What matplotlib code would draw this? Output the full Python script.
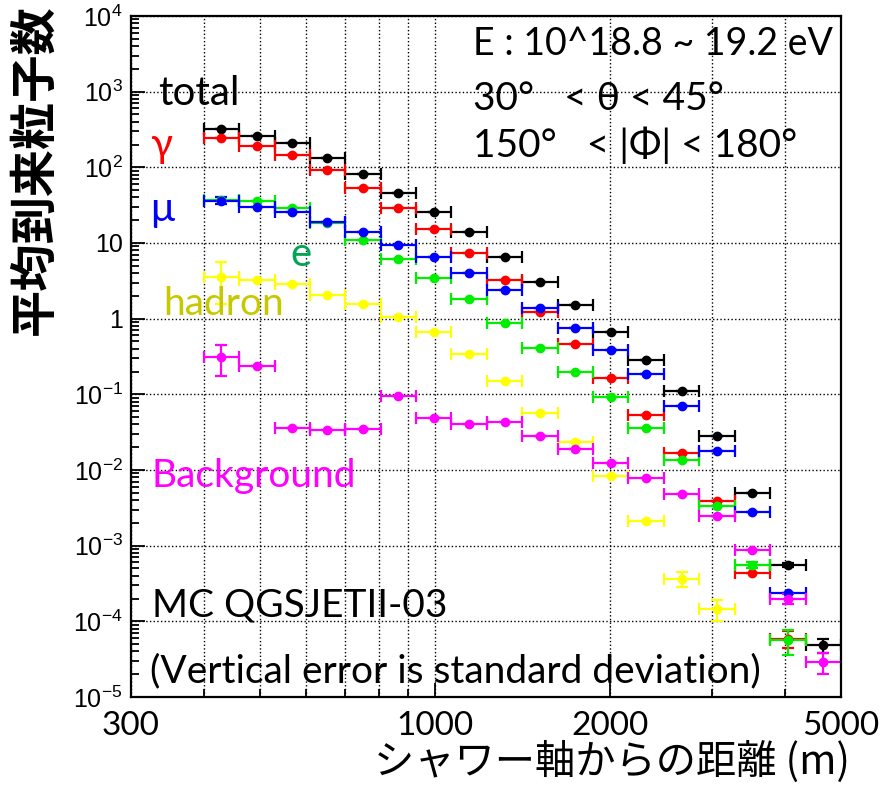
import matplotlib
matplotlib.use("Agg")
import matplotlib.pyplot as plt
import numpy as np

# 距離ビン (m)
bin_edges = [400, 460, 530, 609, 701, 807, 928, 1068, 1229, 1414, 1627,
             1872, 2154, 2479, 2852, 3282, 3777, 4346, 5000]

total = [317, 260, 207, 133, 81, 46.4, 26, 13.9, 6.63, 3.08, 1.51, 0.666,
         0.282, 0.111, 0.0283, 0.00491, 5.6e-4, 4.8e-5]
total_err = [0]*16 + [0.3e-4, 1.0e-5]

gamma = [241, 189, 144, 91, 52.8, 29.4, 15.1, 7.27, 3.27, 1.24, 0.462, 0.163,
         0.053, 0.0166, 0.00392, 4.3e-4, 5.9e-5]
gamma_err = [0]*16 + [1.5e-5]

mu = [36.4, 29.7, 26, 18.8, 13.9, 9.55, 6.44, 4.04, 2.36, 1.40, 0.761, 0.385,
      0.188, 0.0697, 0.0179, 0.00281, 2.4e-4]
mu_err = [4] + [0]*16

elec = [37, 36, 28.9, 18.5, 11.0, 6.11, 3.43, 1.80, 0.875, 0.406, 0.198,
        0.0916, 0.0357, 0.0136, 0.00334, 5.5e-4, 5.6e-5]
elec_err = [0]*15 + [0.5e-4, 2.0e-5]

hadron = [3.54, 3.23, 2.83, 2.05, 1.56, 1.05, 0.666, 0.338, 0.150, 0.0575,
          0.0233, 0.0083, 0.00214, 3.64e-4, 1.47e-4]
hadron_err = [2.0] + [0]*12 + [0.8e-4, 0.45e-4]

background = [0.311, 0.235, 0.0354, 0.0336, 0.0343, 0.0953, 0.0489, 0.0403,
              0.0425, 0.0283, 0.0187, 0.0124, 0.00788, 0.00485, 0.00247,
              8.7e-4, 1.98e-4, 2.9e-5]
background_err = [0.135] + [0]*15 + [0.3e-4, 0.9e-5]

series = [
    (total, total_err, "black"),
    (gamma, gamma_err, "#ff0000"),
    (elec, elec_err, "#00ee00"),
    (mu, mu_err, "#0000ff"),
    (hadron, hadron_err, "#ffff00"),
    (background, background_err, "#ff00ff"),
]

W, H = 895, 785
fig = plt.figure(figsize=(W/100, H/100), dpi=100)
ax = fig.add_axes([131/W, 1-697/H, 710/W, 681/H])

edges = np.array(bin_edges, dtype=float)
lo_all = edges[:-1]
hi_all = edges[1:]
cen_all = np.sqrt(lo_all*hi_all)

for vals, errs, col in series:
    n = len(vals)
    x = cen_all[:n]
    xerr = [x - lo_all[:n], hi_all[:n] - x]
    ax.errorbar(x, vals, xerr=xerr, yerr=errs, fmt="o", color=col, ms=6,
                elinewidth=1.6, capsize=4, capthick=1.6)

ax.set_xscale("log")
ax.set_yscale("log")
ax.set_xlim(300, 5000)
ax.set_ylim(1e-5, 1e4)

ax.set_xticks([300, 1000, 2000, 5000])
ax.set_xticklabels(["300", "1000", "2000", "5000"])
ax.set_xticks([400, 500, 600, 700, 800, 900, 3000, 4000], minor=True)
ax.xaxis.set_minor_formatter(matplotlib.ticker.NullFormatter())
for lab in ax.get_xticklabels():
    lab.set_fontfamily(["Lato", "DejaVu Sans"])
    lab.set_fontsize(24)

yt = [10.0**k for k in range(-5, 5)]
ylabs = []
for k in range(-5, 5):
    if k == 0:
        ylabs.append("1")
    elif k == 1:
        ylabs.append("10")
    else:
        ylabs.append(r"$\mathregular{10^{%d}}$" % k)
ax.set_yticks(yt)
ax.set_yticklabels(ylabs)
ax.yaxis.set_minor_locator(matplotlib.ticker.LogLocator(base=10, subs=np.arange(2, 10), numticks=20))
ax.yaxis.set_minor_formatter(matplotlib.ticker.NullFormatter())
for lab in ax.get_yticklabels():
    lab.set_fontfamily("Liberation Sans")
    lab.set_fontsize(18)

ax.tick_params(which="both", direction="in", top=False, right=False, width=1.3, color="black")
ax.tick_params(which="major", length=10)
ax.tick_params(which="minor", length=6)
ax.tick_params(axis="x", which="major", pad=10)
ax.tick_params(axis="y", which="major", pad=6)

ax.grid(True, axis="x", which="both", linestyle=":", color="black", linewidth=1)
ax.grid(True, axis="y", which="major", linestyle=":", color="black", linewidth=1)
ax.set_axisbelow(True)
for sp in ax.spines.values():
    sp.set_linewidth(1.6)

def put(px, py, s, color="black", size=28, fam=("Lato", "DejaVu Sans")):
    fig.text(px/W, 1-py/H, s, color=color, fontsize=size, family=list(fam),
             va="baseline", ha="left")

put(158, 105, "total", size=29)
put(150, 157, "γ", color="#ff0000", size=29)
put(150, 221, "μ", color="#0000ff", size=29)
put(290, 266, "e", color="#00a651", size=29)
put(163, 315, "hadron", color="#c8c800")
put(152, 487, "Background", color="#ff00ff")
put(152, 617, "MC QGSJETII-03")
put(150, 682, "(Vertical error is standard deviation)")

put(473, 55, "E : 10^18.8 ~ 19.2 eV", size=27)
put(473, 110, "30°   < θ < 45°")
put(473, 157, "150°   < |Φ| < 180°")

fig.text(35/W, 1-170/H, "平均到来粒子数", rotation=90, fontsize=34,
         family=["Noto Sans CJK JP", "DejaVu Sans"], fontweight="bold",
         ha="center", va="center")
fig.text(850/W, 1-774/H, "シャワー軸からの距離 (m)", fontsize=29,
         family=["Noto Sans CJK JP", "DejaVu Sans"], ha="right", va="baseline")

fig.savefig("out.png", dpi=100)
